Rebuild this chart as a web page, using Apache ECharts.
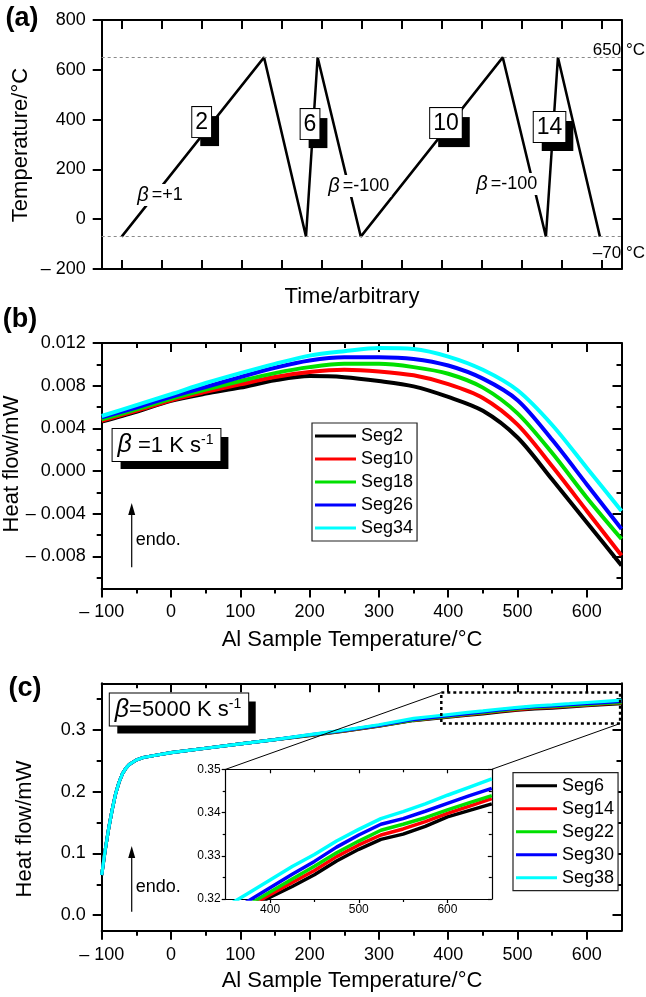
<!DOCTYPE html>
<html><head><meta charset="utf-8">
<script src="https://cdn.jsdelivr.net/npm/echarts@6/dist/echarts.min.js"></script>
<style>html,body{margin:0;padding:0;background:#fff}#c{width:646px;height:997px}</style>
</head><body><div id="c"></div>
<script>
// ---------- Panel (a): temperature program ----------
const timeA = [0, 3.56, 4.61, 4.90, 5.98, 9.53, 10.61, 10.91, 11.96];
const tempA = [-70, 650, -70, 650, -70, 650, -70, 650, -70];
const refTempsA = [650, -70];
const refLabelsA = ['650 °C', '\u201370 °C'];
const segNumsA = ['2', '6', '10', '14'];
const segAtT = [2.0, 4.71, 8.11, 10.70];
const segAtV = [390, 382, 386, 370];
const rateTextA = ['=+1', '=-100', '=-100'];
const rateAtT = [0.96, 5.93, 9.63];
const rateAtV = [97, 133, 141];
const ticksAx = [0,1,2,3,4,5,6,7,8,9,10,11,12];
const ticksAy = [-200, 0, 200, 400, 600, 800];

// ---------- Panel (b): beta = 1 K/s ----------
const tempB = [-100,-50,0,50,100,150,200,250,300,350,400,450,500,550,600,650];
const seg2  = [0.00463,0.00556,0.00658,0.00726,0.00782,0.00850,0.00890,0.00880,0.00844,0.00794,0.00695,0.00565,0.00315,-0.00079,-0.00481,-0.00884];
const seg10 = [0.00472,0.00565,0.00664,0.00742,0.00813,0.00881,0.00928,0.00949,0.00934,0.00897,0.00815,0.00685,0.00435,0.00045,-0.00373,-0.00791];
const seg18 = [0.00485,0.00578,0.00677,0.00763,0.00844,0.00918,0.00974,0.01005,0.01005,0.00974,0.00912,0.00782,0.00541,0.00169,-0.00249,-0.00636];
const seg26 = [0.00503,0.00596,0.00695,0.00788,0.00881,0.00968,0.01036,0.01067,0.01067,0.01051,0.00989,0.00866,0.00664,0.00293,-0.00125,-0.00543];
const seg34 = [0.00516,0.00618,0.00720,0.00825,0.00918,0.01005,0.01082,0.01123,0.01154,0.01144,0.01073,0.00949,0.00757,0.00432,0.00030,-0.00373];
const namesB = ['Seg2','Seg10','Seg18','Seg26','Seg34'];
const ticksBxMaj = [-100,0,100,200,300,400,500,600];
const ticksBxMin = [-50,50,150,250,350,450,550];
const ticksByMaj = [-0.008,-0.004,0,0.004,0.008,0.012];
const ticksByMin = [-0.010,-0.006,-0.002,0.002,0.006,0.010];

// ---------- Panel (c): beta = 5000 K/s ----------
const tempC = [-100,-95,-90,-85,-80,-75,-70,-65,-60,-50,-40,-30,-20,0,50,100,150,200,250,300,350,375,400,425,450,475,500,525,550,575,600,625,650];
const seg6  = [0.065,0.105,0.140,0.170,0.196,0.215,0.229,0.238,0.244,0.251,0.255,0.257,0.259,0.263,0.270,0.277,0.284,0.2905,0.2975,0.3055,0.3148,0.3176,0.3204,0.3229,0.3256,0.3288,0.3315,0.3338,0.3350,0.3368,0.3390,0.3405,0.3420];
const seg14 = [0.065,0.105,0.140,0.170,0.196,0.215,0.229,0.238,0.244,0.251,0.255,0.257,0.259,0.263,0.270,0.277,0.284,0.2910,0.2980,0.3060,0.3152,0.3181,0.3210,0.3238,0.3266,0.3298,0.3325,0.3348,0.3362,0.3379,0.3398,0.3415,0.3432];
const seg22 = [0.065,0.105,0.140,0.170,0.196,0.215,0.229,0.238,0.244,0.251,0.255,0.257,0.259,0.263,0.270,0.277,0.284,0.2910,0.2985,0.3065,0.3155,0.3186,0.3216,0.3246,0.3276,0.3307,0.3334,0.3359,0.3373,0.3388,0.3406,0.3423,0.3439];
const seg30 = [0.065,0.105,0.140,0.170,0.196,0.215,0.229,0.238,0.244,0.251,0.255,0.257,0.259,0.263,0.270,0.277,0.284,0.2915,0.2990,0.3070,0.3164,0.3195,0.3226,0.3257,0.3287,0.3320,0.3348,0.3373,0.3386,0.3403,0.3421,0.3439,0.3456];
const seg38 = [0.065,0.105,0.140,0.170,0.196,0.215,0.229,0.238,0.244,0.251,0.255,0.257,0.259,0.263,0.270,0.277,0.284,0.2920,0.2995,0.3080,0.3182,0.3213,0.3244,0.3275,0.3303,0.3334,0.3361,0.3386,0.3402,0.3420,0.3440,0.3459,0.3478];
const namesC = ['Seg6','Seg14','Seg22','Seg30','Seg38'];
const ticksCyMaj = [0, 0.1, 0.2, 0.3];
const ticksCyMin = [0.05, 0.15, 0.25, 0.35];
const insetXMaj = [400, 500, 600];
const insetXMin = [450, 550];
const insetYMaj = [0.32, 0.33, 0.34, 0.35];
const insetYMin = [0.325, 0.335, 0.345];
const zoomBoxX = [390, 648];
const zoomBoxY = [0.31, 0.36];

const colors = ['#000000', '#ff0000', '#00e000', '#0000ff', '#00ffff'];
const FONT = '"Liberation Sans", Arial, Helvetica, sans-serif';

function fmt(dec) {
  return function (v) {
    const s = Math.abs(v).toFixed(dec);
    return v < -1e-12 ? '\u2013 ' + s : s;
  };
}

const xAxes = [], yAxes = [];
function addAxes(g, c) {
  const lineOn = { show: true, onZero: false, lineStyle: { color: '#000', width: c.lw } };
  const lineOff = { show: false, onZero: false };
  const tick = (vals, len, inside) => ({ show: true, customValues: vals, length: len, inside: inside, lineStyle: { color: '#000', width: c.lw } });
  const lab = (vals, f, margin) => vals ? { show: true, customValues: vals, formatter: f, margin: margin, color: '#000', fontSize: c.fs, fontFamily: FONT } : { show: false };
  const mk = (min, max, pos, line, tk, lb) => ({ gridIndex: g, type: 'value', min: min, max: max, position: pos, splitLine: { show: false }, axisLine: line, axisTick: tk, axisLabel: lb });
  const xi = xAxes.length, yi = yAxes.length;
  xAxes.push(mk(c.xr[0], c.xr[1], 'bottom', lineOn, tick(c.xMaj, c.majL, c.bottomIn), lab(c.xLab, c.xFmt, c.xMargin)));
  xAxes.push(mk(c.xr[0], c.xr[1], 'top', lineOn, tick(c.xMaj, c.majL, true), { show: false }));
  if (c.xMin) {
    xAxes.push(mk(c.xr[0], c.xr[1], 'bottom', lineOff, tick(c.xMin, c.minL, c.bottomIn), { show: false }));
    xAxes.push(mk(c.xr[0], c.xr[1], 'top', lineOff, tick(c.xMin, c.minL, true), { show: false }));
  }
  yAxes.push(mk(c.yr[0], c.yr[1], 'left', lineOn, tick(c.yMaj, c.majL, false), lab(c.yMaj, c.yFmt, c.yMargin)));
  yAxes.push(mk(c.yr[0], c.yr[1], 'right', lineOn, tick(c.yMaj, c.majL, true), { show: false }));
  if (c.yMin) {
    yAxes.push(mk(c.yr[0], c.yr[1], 'left', lineOff, tick(c.yMin, c.minL, false), { show: false }));
    yAxes.push(mk(c.yr[0], c.yr[1], 'right', lineOff, tick(c.yMin, c.minL, true), { show: false }));
  }
  return { xi: xi, yi: yi };
}

const axA = addAxes(0, { xr: [-0.5, 12.5], xMaj: ticksAx, xLab: null, bottomIn: true, yr: [-200, 800], yMaj: ticksAy, yFmt: fmt(0), lw: 2, majL: 9, minL: 5, fs: 18, xMargin: 15, yMargin: 16 });
const axB = addAxes(1, { xr: [-100, 650], xMaj: ticksBxMaj, xMin: ticksBxMin, xLab: ticksBxMaj, xFmt: fmt(0), bottomIn: false, yr: [-0.011, 0.012], yMaj: ticksByMaj, yMin: ticksByMin, yFmt: fmt(3), lw: 2, majL: 9, minL: 5, fs: 18, xMargin: 15, yMargin: 16 });
const axC = addAxes(2, { xr: [-100, 650], xMaj: ticksBxMaj, xMin: ticksBxMin, xLab: ticksBxMaj, xFmt: fmt(0), bottomIn: false, yr: [-0.025, 0.375], yMaj: ticksCyMaj, yMin: ticksCyMin, yFmt: fmt(1), lw: 2, majL: 9, minL: 5, fs: 18, xMargin: 15, yMargin: 16 });
const axI = addAxes(3, { xr: [350, 650], xMaj: insetXMaj, xMin: insetXMin, xLab: insetXMaj, xFmt: fmt(0), bottomIn: false, yr: [0.32, 0.35], yMaj: insetYMaj, yMin: insetYMin, yFmt: fmt(2), lw: 1.2, majL: 4, minL: 3, fs: 12, xMargin: 5, yMargin: 5 });

const series = [];
series.push({
  type: 'line', xAxisIndex: axA.xi, yAxisIndex: axA.yi, showSymbol: false, silent: true,
  data: timeA.map((t, i) => [t, tempA[i]]),
  lineStyle: { color: '#000', width: 2.5 },
  markLine: { silent: true, symbol: 'none', label: { show: false },
    lineStyle: { color: '#8a8a8a', width: 1, type: [3, 3] },
    data: refTempsA.map(v => ({ yAxis: v })) }
});
[seg2, seg10, seg18, seg26, seg34].forEach((arr, i) => {
  series.push({ type: 'line', name: namesB[i], xAxisIndex: axB.xi, yAxisIndex: axB.yi, showSymbol: false, smooth: 0.3,
    color: colors[i], lineStyle: { color: colors[i], width: 4 }, data: tempB.map((t, k) => [t, arr[k]]) });
});
const segC = [seg6, seg14, seg22, seg30, seg38];
segC.forEach((arr, i) => {
  series.push({ type: 'line', name: namesC[i], xAxisIndex: axC.xi, yAxisIndex: axC.yi, showSymbol: false, smooth: false,
    color: colors[i], lineStyle: { color: colors[i], width: 3.2 }, data: tempC.map((t, k) => [t, arr[k]]) });
});
segC.forEach((arr, i) => {
  series.push({ type: 'line', name: namesC[i], xAxisIndex: axI.xi, yAxisIndex: axI.yi, showSymbol: false, smooth: false, clip: true,
    color: colors[i], lineStyle: { color: colors[i], width: 3.5 }, data: tempC.map((t, k) => [t, arr[k]]), z: 4 });
});

const legendBase = { orient: 'vertical', icon: 'rect', itemWidth: 41, itemHeight: 3, itemGap: 3, padding: [3, 4, 3, 3],
  selectedMode: false, borderColor: '#222', borderWidth: 1.2, backgroundColor: '#fff',
  textStyle: { fontSize: 18, fontFamily: FONT, color: '#000', lineHeight: 20 } };

const option = {
  animation: false,
  backgroundColor: '#fff',
  grid: [
    { left: 101.7, top: 20, width: 519.8, height: 249 },
    { left: 101.7, top: 343, width: 519.8, height: 245.5 },
    { left: 101.7, top: 683.3, width: 519.8, height: 247.4 },
    { left: 225.7, top: 769.3, width: 266.1, height: 129.7, show: true, backgroundColor: '#fff', borderWidth: 0 }
  ],
  xAxis: xAxes,
  yAxis: yAxes,
  legend: [
    Object.assign({ data: namesB, left: 312, top: 423 }, legendBase),
    Object.assign({ data: namesC, left: 513, top: 772.7 }, legendBase)
  ],
  series: series
};

const chart = echarts.init(document.getElementById('c'), null, { renderer: 'canvas', width: 646, height: 997 });
chart.setOption(option);

const P = (ax, v) => chart.convertToPixel({ xAxisIndex: ax.xi, yAxisIndex: ax.yi }, v);
const G = [];
const txt = (x, y, text, o) => Object.assign({ type: 'text', x: x, y: y, z: 100, silent: true,
  style: Object.assign({ text: text, fill: '#000', fontFamily: FONT, fontSize: 17 }, o || {}) });

function shadowBox(x, y, text, fs, pad, off, rich) {
  const common = { text: text, fontSize: fs, fontFamily: FONT, align: 'center', verticalAlign: 'middle', padding: pad, rich: rich || {} };
  return [
    { type: 'text', x: x + off[0], y: y + off[1], z: 100, silent: true, style: Object.assign({}, common, { fill: '#000', backgroundColor: '#000' }) },
    { type: 'text', x: x, y: y, z: 101, silent: true, style: Object.assign({}, common, { fill: '#000', backgroundColor: '#fff', borderColor: '#000', borderWidth: 1 }) }
  ];
}

// panel labels
const panelStyle = { fontSize: 27, fontWeight: 'bold', align: 'center', verticalAlign: 'middle' };
G.push(txt(22, 19, '(a)', panelStyle));
G.push(txt(20, 320, '(b)', panelStyle));
G.push(txt(25, 689, '(c)', panelStyle));

// axis titles
const titleStyle = { fontSize: 22, align: 'center', verticalAlign: 'middle' };
G.push(txt(352, 297, 'Time/arbitrary', titleStyle));
G.push(txt(352, 640, 'Al Sample Temperature/°C', titleStyle));
G.push(txt(352, 981, 'Al Sample Temperature/°C', titleStyle));
G.push(Object.assign(txt(21, 145, 'Temperature/°C', titleStyle), { rotation: Math.PI / 2 }));
G.push(Object.assign(txt(12, 464, 'Heat flow/mW', titleStyle), { rotation: Math.PI / 2 }));
G.push(Object.assign(txt(24.5, 829, 'Heat flow/mW', titleStyle), { rotation: Math.PI / 2 }));

// (a) reference labels
refTempsA.forEach((v, i) => {
  const p = P(axA, [12.5, v]);
  G.push(txt(645, i === 0 ? p[1] - 7 : p[1] + 17, refLabelsA[i], { align: 'right', verticalAlign: 'middle' }));
});
// (a) segment boxes
segNumsA.forEach((s, i) => {
  const p = P(axA, [segAtT[i], segAtV[i]]);
  G.push(...shadowBox(p[0], p[1], s, 23, [4, 3, 3, 3], [8, 9]));
});
// (a) rate labels
rateTextA.forEach((s, i) => {
  const p = P(axA, [rateAtT[i], rateAtV[i]]);
  G.push(txt(p[0], p[1], '{b|β}' + s, { fontSize: 18, align: 'center', verticalAlign: 'middle', backgroundColor: '#fff', padding: [1, 2],
    rich: { b: { fontSize: 20, fontStyle: 'italic', fontFamily: FONT, padding: [0, 3, 0, 0] } } }));
});

// beta boxes (b) and (c)
const betaRich = { b: { fontSize: 25, fontStyle: 'italic', fontFamily: FONT }, s: { fontSize: 14, fontFamily: FONT, verticalAlign: 'top' } };
G.push(...shadowBox(166.5, 445, '{b|β} =1 K s{s|-1}', 22, [4, 7, 3, 5], [8, 8], betaRich));
G.push(...shadowBox(179, 709.5, '{b|β}=5000 K s{s|-1}', 22, [4, 7, 3, 5], [7.5, 8], betaRich));

// endo arrows
function arrow(ax, x, y0, y1, ty) {
  const a = P(ax, [x, y0]), b = P(ax, [x, y1]), t = P(ax, [x, ty]);
  G.push({ type: 'line', z: 100, silent: true, shape: { x1: a[0], y1: a[1], x2: b[0], y2: b[1] + 8 }, style: { stroke: '#000', lineWidth: 1.2 } });
  G.push({ type: 'polygon', z: 100, silent: true, shape: { points: [[b[0], b[1]], [b[0] - 3.5, b[1] + 12], [b[0] + 3.5, b[1] + 12]] }, style: { fill: '#000' } });
  G.push(txt(a[0] + 4, t[1], 'endo.', { fontSize: 18, align: 'left', verticalAlign: 'middle' }));
}
arrow(axB, -56.7, -0.0090, -0.0030, -0.0065);
arrow(axC, -56.7, 0.0055, 0.112, 0.046);

// zoom rectangle and connectors in (c)
{
  const tl = P(axC, [zoomBoxX[0], zoomBoxY[1]]), br = P(axC, [zoomBoxX[1], zoomBoxY[0]]);
  G.push({ type: 'rect', z: 100, silent: true, shape: { x: tl[0], y: tl[1], width: br[0] - tl[0], height: br[1] - tl[1] },
    style: { fill: 'transparent', stroke: '#000', lineWidth: 2.5, lineDash: [3, 3] } });
  const itl = P(axI, [350, 0.35]), itr = P(axI, [650, 0.35]);
  G.push({ type: 'line', z: 99, silent: true, shape: { x1: tl[0], y1: tl[1], x2: itl[0], y2: itl[1] }, style: { stroke: '#000', lineWidth: 1 } });
  G.push({ type: 'line', z: 99, silent: true, shape: { x1: br[0], y1: br[1], x2: itr[0], y2: itr[1] }, style: { stroke: '#000', lineWidth: 1 } });
}

chart.setOption({ graphic: G });
</script></body></html>
